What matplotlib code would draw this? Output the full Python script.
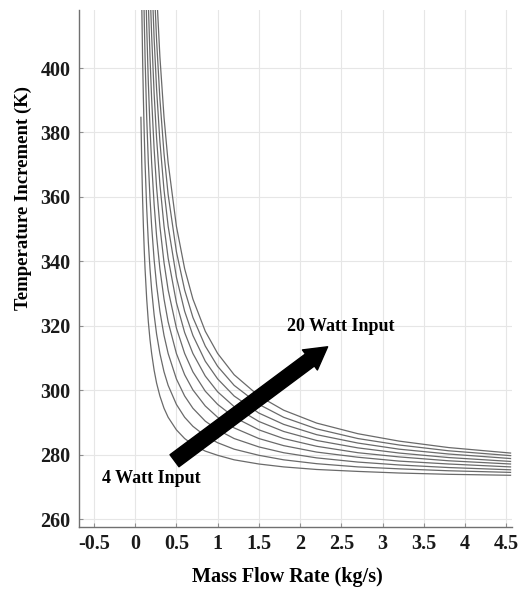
import matplotlib.pyplot as plt
from matplotlib.patches import FancyArrowPatch

# mass flow rate samples (kg/s)
mass_flow = [0.07, 0.08, 0.09, 0.1, 0.11, 0.12, 0.14, 0.16, 0.18, 0.2, 0.23, 0.26,
             0.3, 0.35, 0.4, 0.5, 0.6, 0.7, 0.85, 1.0, 1.2, 1.5, 1.8, 2.2, 2.7,
             3.2, 3.8, 4.55]

# temperature (K) for each watt input
temp_4w = [384.7, 370.6, 359.6, 350.9, 343.7, 337.7, 328.3, 321.2, 315.7, 311.4, 306.2, 302.2,
           298.2, 294.4, 291.6, 287.7, 285.0, 283.1, 281.1, 279.8, 278.4, 277.1, 276.2, 275.4,
           274.8, 274.3, 273.9, 273.6]
temp_6w = [441.1, 420.0, 403.5, 390.4, 379.6, 370.6, 356.5, 345.9, 337.7, 331.1, 323.4, 317.4,
           311.4, 305.7, 301.5, 295.6, 291.6, 288.8, 285.8, 283.7, 281.7, 279.8, 278.4, 277.2,
           276.2, 275.6, 275.0, 274.5]
temp_8w = [497.6, 469.4, 447.4, 429.9, 415.5, 403.5, 384.7, 370.6, 359.6, 350.9, 340.5, 332.6,
           324.5, 317.0, 311.4, 303.5, 298.2, 294.4, 290.4, 287.7, 285.0, 282.4, 280.6, 279.0,
           277.7, 276.8, 276.0, 275.3]
temp_10w = [554.0, 518.7, 491.3, 469.4, 451.4, 436.4, 412.9, 395.3, 381.6, 370.6, 357.7, 347.8,
            337.7, 328.3, 321.2, 311.4, 304.8, 300.1, 295.1, 291.6, 288.3, 285.0, 282.8, 280.8,
            279.2, 278.0, 277.1, 276.2]
temp_12w = [610.4, 568.1, 535.2, 508.9, 487.3, 469.4, 441.1, 420.0, 403.5, 390.4, 374.9, 363.0,
            350.9, 339.6, 331.1, 319.3, 311.4, 305.7, 299.7, 295.6, 291.6, 287.7, 285.0, 282.6,
            280.6, 279.3, 278.1, 277.1]
temp_14w = [666.9, 617.5, 579.1, 548.4, 523.2, 502.3, 469.4, 444.7, 425.5, 410.1, 392.1, 378.2,
            364.0, 350.9, 341.0, 327.2, 317.9, 311.4, 304.4, 299.5, 294.9, 290.3, 287.2, 284.4,
            282.1, 280.5, 279.1, 277.9]
temp_16w = [723.3, 666.9, 623.0, 587.9, 559.1, 535.2, 497.6, 469.4, 447.4, 429.9, 409.2, 393.4,
            377.2, 362.1, 350.9, 335.1, 324.5, 317.0, 309.0, 303.5, 298.2, 292.9, 289.4, 286.2,
            283.6, 281.7, 280.2, 278.8]
temp_18w = [779.7, 716.2, 666.9, 627.4, 595.0, 568.1, 525.8, 494.0, 469.4, 449.6, 426.4, 408.6,
            390.4, 373.4, 360.7, 343.0, 331.1, 322.6, 313.7, 307.4, 301.5, 295.6, 291.6, 288.0,
            285.0, 283.0, 281.2, 279.7]
temp_20w = [836.1, 765.6, 710.7, 666.9, 630.9, 601.0, 554.0, 518.7, 491.3, 469.4, 443.6, 423.8,
            403.5, 384.7, 370.6, 350.9, 337.7, 328.3, 318.3, 311.4, 304.8, 298.2, 293.8, 289.8,
            286.5, 284.2, 282.2, 280.5]

curves = [temp_4w, temp_6w, temp_8w, temp_10w, temp_12w, temp_14w, temp_16w, temp_18w, temp_20w]

x_ticks = [-0.5, 0, 0.5, 1, 1.5, 2, 2.5, 3, 3.5, 4, 4.5]
x_tick_labels = ['-0.5', '0', '0.5', '1', '1.5', '2', '2.5', '3', '3.5', '4', '4.5']
y_ticks = [260, 280, 300, 320, 340, 360, 380, 400]

plt.rcParams['font.family'] = ['Liberation Serif', 'DejaVu Serif']
plt.rcParams['font.weight'] = 'bold'

fig = plt.figure(figsize=(5.2, 5.89), dpi=100)
ax = fig.add_axes([0.152, 0.105, 0.833, 0.878])

for temps in curves:
    ax.plot(mass_flow, temps, color='#6a6a6a', linewidth=0.9)

ax.set_xlim(-0.68, 4.57)
ax.set_ylim(257.5, 418)
ax.set_xticks(x_ticks)
ax.set_xticklabels(x_tick_labels)
ax.set_yticks(y_ticks)
ax.grid(True, color='#e6e6e6', linewidth=0.8)
ax.set_axisbelow(True)

for side in ['top', 'right']:
    ax.spines[side].set_visible(False)
for side in ['left', 'bottom']:
    ax.spines[side].set_color('#707070')
    ax.spines[side].set_linewidth(1.0)

ax.tick_params(direction='in', length=3, color='#909090', labelsize=14.5,
               labelcolor='#1a1a1a')
ax.tick_params(axis='x', pad=5)
ax.tick_params(axis='y', pad=6)
for lbl in ax.get_xticklabels() + ax.get_yticklabels():
    lbl.set_fontweight('bold')

ax.set_xlabel('Mass Flow Rate (kg/s)', fontsize=14.5, fontweight='bold', va='center')
ax.xaxis.set_label_coords(0.48, -0.097)
ax.set_ylabel('Temperature Increment (K)', fontsize=13.5, fontweight='bold', va='center')
ax.yaxis.set_label_coords(-0.129, 0.636)

arrow = FancyArrowPatch((0.45, 277.6), (2.36, 314.0),
                        arrowstyle='simple,head_width=0.6,head_length=0.53,tail_width=0.36',
                        mutation_scale=30, color='black', zorder=5)
ax.add_patch(arrow)

ax.text(1.84, 319.8, '20 Watt Input', fontsize=13, fontweight='bold', va='center', ha='left')
ax.text(-0.40, 272.7, '4 Watt Input', fontsize=13, fontweight='bold', va='center', ha='left')

fig.savefig('out.png', dpi=100)
